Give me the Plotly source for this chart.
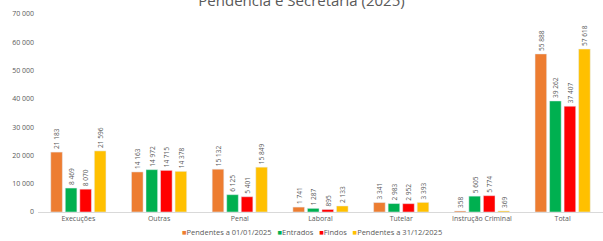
import plotly.graph_objects as go

categories = ["Execuções", "Outras", "Penal", "Laboral", "Tutelar", "Instrução Criminal", "Total"]
pend_ini = [21183, 14163, 15132, 1741, 3341, 358, 55888]
entrados = [8469, 14972, 6125, 1287, 2983, 5605, 39262]
findos = [8070, 14715, 5401, 895, 2952, 5774, 37407]
pend_fim = [21596, 14378, 15849, 2133, 3393, 369, 57618]

series = [
    ("Pendentes a 01/01/2025", pend_ini, "#ED7D31"),
    ("Entrados", entrados, "#00B050"),
    ("Findos", findos, "#FF0000"),
    ("Pendentes a 31/12/2025", pend_fim, "#FFC000"),
]

fig = go.Figure()
for name, vals, col in series:
    fig.add_trace(go.Bar(
        x=categories, y=vals, name=name, marker_color=col, showlegend=False,
        texttemplate="%{y:,}", textposition="outside", textangle=-90,
        textfont=dict(size=8, color="#595959"), cliponaxis=False,
    ))

# compact legend, built from the series names/colours
legend_text = "   ".join(
    f"<span style='color:{col}'>■</span>{name}" for name, _, col in series
)
fig.add_annotation(text=legend_text, xref="paper", yref="paper", x=0.485, y=-0.1,
                   xanchor="center", yanchor="middle", showarrow=False,
                   font=dict(size=7.5, color="#595959"))

fig.update_layout(
    width=603, height=241,
    margin=dict(l=38, r=0, t=14, b=29),
    paper_bgcolor="white", plot_bgcolor="white",
    separators=", ",
    font=dict(family="Open Sans", size=7, color="#595959"),
    title=dict(text="Pendência e Secretaria (2025)", x=0.5, xanchor="center",
               y=0.995, yref="container", yanchor="middle",
               font=dict(size=15, color="#595959")),
    barmode="group", bargap=0.28, bargroupgap=0.2,
    showlegend=False,
    uniformtext=dict(minsize=6, mode="show"),
)
fig.update_xaxes(showline=True, linecolor="#D9D9D9", ticks="", tickfont=dict(size=7),
                 tickmode="array", tickvals=categories, ticktext=categories, tickangle=0,
                 automargin=False)
fig.update_yaxes(range=[0, 70000], dtick=10000, tickformat=",", showgrid=False,
                 zeroline=False, showline=False, tickfont=dict(size=7),
                 ticklabelstandoff=3, automargin=False)

fig.write_html("out.html", config={"displayModeBar": False},
               post_script="document.body.style.margin='0';")
